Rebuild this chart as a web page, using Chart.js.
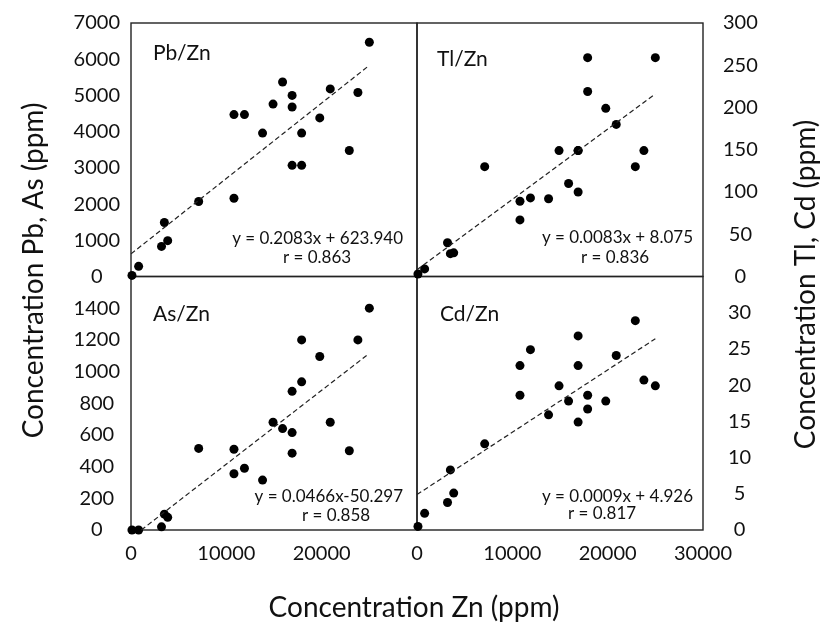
<!DOCTYPE html>
<html>
<head>
<meta charset="utf-8">
<script src="https://cdn.jsdelivr.net/npm/chart.js@4.4.1/dist/chart.umd.min.js"></script>
<style>
  html, body { margin: 0; padding: 0; background: #fff; }
  #wrap { width: 822px; height: 626px; position: relative; }
</style>
</head>
<body>
<div id="wrap"><canvas id="myChart" width="822" height="626"></canvas></div>
<script>
// Zn concentration of each sample (ppm), shared by the four panels
const zn = [100, 800, 3200, 3500, 3850, 7100, 10800, 10800, 11900, 13800, 14900,
            15900, 16900, 16900, 16900, 17900, 17900, 19800, 20900, 22900, 23800, 25000];
const pb = [30, 280, 830, 1490, 990, 2070, 2160, 4470, 4470, 3960, 4760,
            5370, 5000, 4680, 3070, 3070, 3960, 4380, 5180, 3480, 5080, 6470];
const tl = [3, 9, 40, 27, 28, 130, 89, 67, 93, 92, 149,
            110, 149, 100, 149, 259, 219, 199, 180, 130, 149, 259];
const as = [0, 0, 20, 100, 80, 515, 510, 355, 390, 315, 680,
            640, 875, 615, 485, 1200, 935, 1095, 680, 500, 1200, 1400];
const cd = [0.5, 2.3, 3.8, 8.3, 5.1, 11.9, 22.7, 18.6, 24.9, 15.9, 19.9,
            17.8, 26.8, 22.7, 14.9, 18.6, 16.7, 17.8, 24.1, 28.9, 20.7, 19.9];

// trend line end points [x, y]
const pbTrend = [[0, 624], [24900, 5810]];
const tlTrend = [[0, 8.1], [25000, 216]];
const asTrend = [[1080, 0], [24900, 1110]];
const cdTrend = [[0, 4.9], [25000, 26.4]];

const panelNames = ['Pb/Zn', 'Tl/Zn', 'As/Zn', 'Cd/Zn'];
const eqTexts = ['y = 0.2083x + 623.940', 'y = 0.0083x + 8.075', 'y = 0.0466x-50.297', 'y = 0.0009x + 4.926'];
const rTexts = ['r = 0.863', 'r = 0.836', 'r = 0.858', 'r = 0.817'];

// axis ranges
const xMax = 30000, xStep = 10000;
const pbMax = 7000, pbStep = 1000;
const tlMax = 300, tlStep = 50;
const asMax = 1600, asStep = 200;
const cdMax = 35, cdStep = 5;

const FONT = 'Lato';
const INK = '#111';

function pts(ys) {
    return zn.map((x, i) => ({x: x, y: ys[i]}));
}
function line(t) {
    return t.map(p => ({x: p[0], y: p[1]}));
}

// panel layout: which axes, and where the texts sit inside it
const panels = [
    {x: 'xL', y: 'yPb', nameDx: 22, nameDy: 37, eqDx: 14, eqDy: 33, rDx: 186, rDy: 14},
    {x: 'xR', y: 'yTl', nameDx: 20, nameDy: 43, eqDx: 10, eqDy: 34, rDx: 198, rDy: 14},
    {x: 'xL', y: 'yAs', nameDx: 22, nameDy: 44, eqDx: 14, eqDy: 28, rDx: 205, rDy: 9},
    {x: 'xR', y: 'yCd', nameDx: 23, nameDy: 44, eqDx: 10, eqDy: 28, rDx: 185, rDy: 11}
];

function dotSet(ys, xId, yId) {
    return {
        data: pts(ys), xAxisID: xId, yAxisID: yId,
        pointRadius: 4.5, pointHoverRadius: 4.5,
        backgroundColor: '#000', borderWidth: 0, clip: false
    };
}
function trendSet(t, xId, yId) {
    return {
        data: line(t), xAxisID: xId, yAxisID: yId, showLine: true,
        pointRadius: 0, borderColor: '#222', borderWidth: 1.2,
        borderDash: [5, 3], clip: false
    };
}

const tickFont = {family: FONT, size: 20};

// gap = hidden tick length, keeps the labels off the frame without adding top padding
function yAxis(pos, max, step, weight, hideTop, gap) {
    return {
        type: 'linear', position: pos, stack: pos, stackWeight: 1, weight: weight,
        min: 0, max: max,
        grid: {display: false, drawTicks: true, tickLength: gap},
        border: {display: false},
        ticks: {
            stepSize: step, color: INK, font: tickFont, padding: 8, crossAlign: 'center',
            autoSkip: false,
            callback: v => (hideTop && v === max) ? '' : String(v)
        },
        afterFit: s => { s.width = 60; }
    };
}
function xAxis(weight, hideLast) {
    return {
        type: 'linear', position: 'bottom', stack: 'bottom', stackWeight: 1, weight: weight,
        min: 0, max: xMax,
        grid: {display: false, drawTicks: false},
        border: {display: false},
        ticks: {
            stepSize: xStep, color: INK, font: tickFont, padding: 12, maxRotation: 0,
            autoSkip: false,
            callback: v => (hideLast && v === xMax) ? '' : String(v)
        },
        afterFit: s => { s.height = 40; }
    };
}

const framePlugin = {
    id: 'frames',
    beforeDatasetsDraw(chart) {
        const ctx = chart.ctx;
        ctx.save();
        ctx.strokeStyle = '#222';
        ctx.lineWidth = 1.4;
        panels.forEach(p => {
            const xs = chart.scales[p.x], ys = chart.scales[p.y];
            ctx.strokeRect(xs.left, ys.top, xs.right - xs.left, ys.bottom - ys.top);
        });
        ctx.restore();
    }
};

const textPlugin = {
    id: 'texts',
    afterDatasetsDraw(chart) {
        const ctx = chart.ctx;
        ctx.save();
        ctx.fillStyle = INK;
        ctx.textBaseline = 'alphabetic';
        panels.forEach((p, i) => {
            const xs = chart.scales[p.x], ys = chart.scales[p.y];
            ctx.font = '21px ' + FONT;
            ctx.textAlign = 'left';
            ctx.fillText(panelNames[i], xs.left + p.nameDx, ys.top + p.nameDy);
            ctx.font = '17px ' + FONT;
            ctx.textAlign = 'right';
            ctx.fillText(eqTexts[i], xs.right - p.eqDx, ys.bottom - p.eqDy);
            ctx.textAlign = 'center';
            ctx.fillText(rTexts[i], xs.left + p.rDx, ys.bottom - p.rDy);
        });
        // axis titles
        const a = chart.chartArea;
        ctx.font = '28px ' + FONT;
        ctx.textAlign = 'center';
        ctx.fillText('Concentration Zn (ppm)', (a.left + a.right) / 2 - 3, 617);
        ctx.save();
        ctx.translate(43, (a.top + a.bottom) / 2 - 6);
        ctx.rotate(-Math.PI / 2);
        ctx.fillText('Concentration Pb, As (ppm)', 0, 0);
        ctx.restore();
        ctx.save();
        ctx.translate(815, (a.top + a.bottom) / 2 + 8);
        ctx.rotate(-Math.PI / 2);
        ctx.fillText('Concentration Tl, Cd (ppm)', 0, 0);
        ctx.restore();
        ctx.restore();
    }
};

const ctx = document.getElementById('myChart').getContext('2d');
const myChart = new Chart(ctx, {
    type: 'scatter',
    data: {
        datasets: [
            trendSet(pbTrend, 'xL', 'yPb'),
            trendSet(tlTrend, 'xR', 'yTl'),
            trendSet(asTrend, 'xL', 'yAs'),
            trendSet(cdTrend, 'xR', 'yCd'),
            dotSet(pb, 'xL', 'yPb'),
            dotSet(tl, 'xR', 'yTl'),
            dotSet(as, 'xL', 'yAs'),
            dotSet(cd, 'xR', 'yCd')
        ]
    },
    options: {
        responsive: false,
        animation: false,
        layout: {padding: {left: 71, right: 59, top: 23, bottom: 56}},
        plugins: {legend: {display: false}, tooltip: {enabled: false}},
        scales: {
            xL: xAxis(0, true),
            xR: xAxis(1, false),
            yPb: yAxis('left', pbMax, pbStep, 1, false, 3),
            yAs: yAxis('left', asMax, asStep, 0, true, 3),
            yTl: yAxis('right', tlMax, tlStep, 0, false, 12),
            yCd: yAxis('right', cdMax, cdStep, 1, true, 17)
        }
    },
    plugins: [framePlugin, textPlugin]
});
</script>
</body>
</html>
